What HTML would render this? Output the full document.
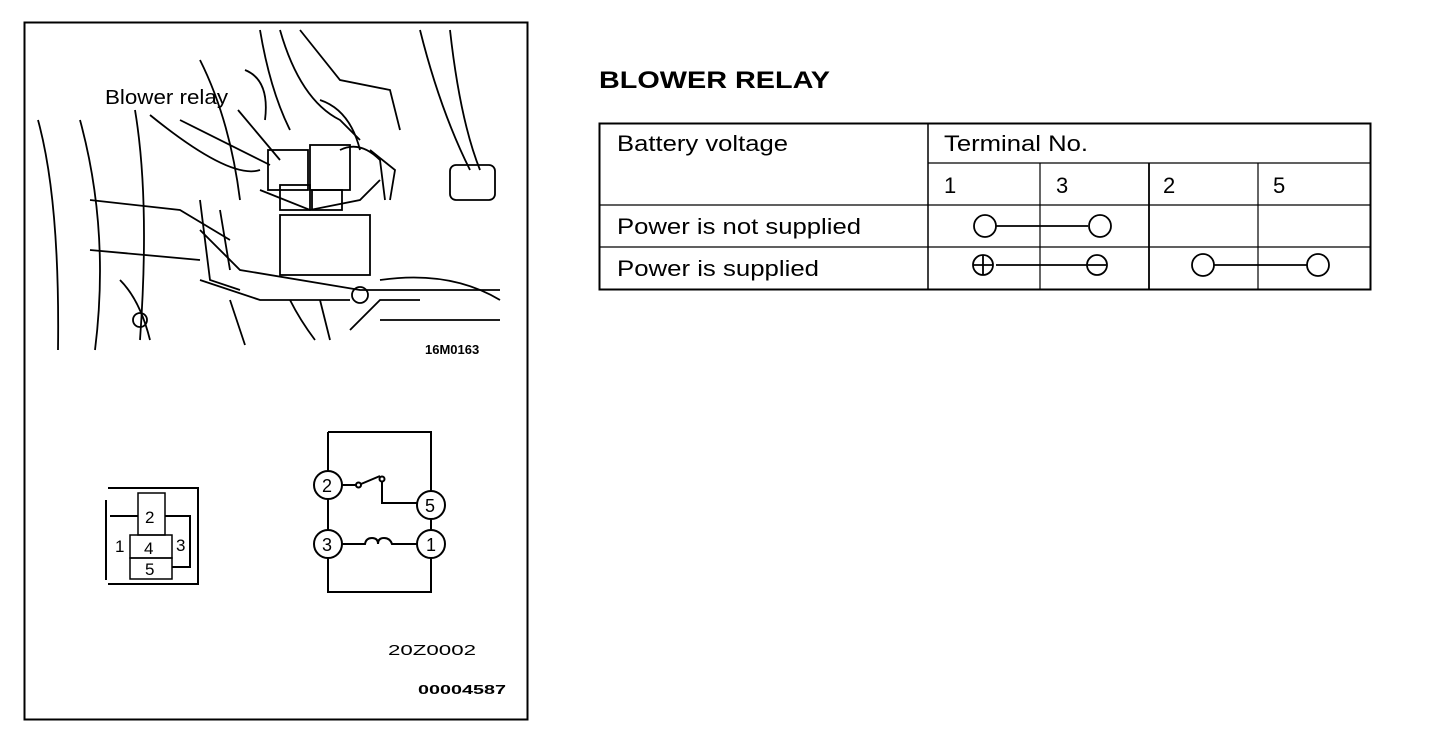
<!DOCTYPE html>
<html><head><meta charset="utf-8"><style>
body{margin:0;background:#fff;width:1456px;height:730px;overflow:hidden}
svg{display:block}
text{font-family:"Liberation Sans",sans-serif;fill:#000}
</style></head><body>
<svg width="1456" height="730" viewBox="0 0 1456 730" xmlns="http://www.w3.org/2000/svg">
<rect x="24.5" y="22.5" width="503" height="697" fill="none" stroke="#000" stroke-width="2"/>
<g fill="none" stroke="#000" stroke-width="1.8">
<path d="M38 120 Q60 200 58 350"/><path d="M80 120 Q110 230 95 350"/>
<path d="M135 110 Q150 200 140 340"/><path d="M150 115 Q230 180 260 170"/>
<path d="M200 60 Q230 120 240 200"/><path d="M260 30 Q270 90 290 130"/>
<path d="M280 30 Q300 100 340 120 L360 140"/><path d="M300 30 L340 80 L390 90 L400 130"/>
<path d="M420 30 Q440 110 470 170"/><path d="M450 30 Q460 120 480 170"/>
<rect x="450" y="165" width="45" height="35" rx="6"/>
<rect x="268" y="150" width="40" height="40"/><rect x="310" y="145" width="40" height="45"/>
<rect x="280" y="185" width="30" height="25"/><rect x="312" y="190" width="30" height="20"/>
<path d="M260 190 L310 210 L360 200 L380 180"/>
<rect x="280" y="215" width="90" height="60"/>
<path d="M200 230 L240 270 L360 290 L500 290"/><path d="M200 280 L260 300 L350 300"/>
<path d="M380 280 Q450 270 500 300"/><path d="M380 320 L500 320"/>
<path d="M90 200 L180 210 L230 240"/><path d="M90 250 L200 260"/>
<path d="M120 280 Q140 300 150 340"/><path d="M230 300 L245 345"/>
<path d="M290 300 Q300 320 315 340"/><path d="M320 300 L330 340"/>
<path d="M180 120 L270 165"/><path d="M238 110 L280 160"/>
<path d="M245 70 Q270 80 265 120"/><path d="M320 100 Q350 110 360 150"/>
<path d="M370 150 L395 170 L390 200"/>
<path d="M340 150 Q360 140 380 160 L385 200"/>
<path d="M200 200 L210 280 L240 290"/><path d="M220 210 L230 270"/>
<path d="M350 330 L380 300 L420 300"/>
<circle cx="360" cy="295" r="8"/><circle cx="140" cy="320" r="7"/>
</g>
<text x="105" y="104" font-size="20" textLength="123" lengthAdjust="spacingAndGlyphs">Blower relay</text>
<text x="425" y="354" font-size="13" font-weight="bold">16M0163</text>
<g fill="none" stroke="#000" stroke-width="2">
<path d="M108 488 L198 488 L198 584 L108 584"/>
<path d="M106 500 L106 580"/>
<path d="M110 516 L138 516"/>
<rect x="138" y="493" width="27" height="42" stroke-width="1.5"/>
<rect x="130" y="535" width="42" height="23" stroke-width="1.5"/>
<rect x="130" y="558" width="42" height="21" stroke-width="1.5"/>
<path d="M165 516 L190 516 L190 567 L172 567"/>
</g>
<text x="145" y="523" font-size="17">2</text>
<text x="115" y="552" font-size="17">1</text>
<text x="144" y="554" font-size="17">4</text>
<text x="176" y="551" font-size="17">3</text>
<text x="145" y="575" font-size="17">5</text>
<g fill="none" stroke="#000" stroke-width="2">
<path d="M328 432 L431 432 L431 492"/>
<path d="M328 432 L328 471"/>
<path d="M328 499 L328 530"/>
<path d="M328 558 L328 592 L431 592 L431 558"/>
<path d="M431 519 L431 530"/>
<path d="M342 485 L356 485"/><circle cx="358.5" cy="485" r="2.5"/>
<path d="M361 484 L380 476"/><circle cx="382" cy="479" r="2.5"/>
<path d="M382 482 L382 503 L417 503"/>
<path d="M342 544 L365 544 Q366 538 372 538 Q378 538 378 544 Q378 538 384 538 Q390 538 392 544 L417 544"/>
<circle cx="328" cy="485" r="14" fill="#fff"/>
<circle cx="431" cy="505" r="14" fill="#fff"/>
<circle cx="328" cy="544" r="14" fill="#fff"/>
<circle cx="431" cy="544" r="14" fill="#fff"/>
</g>
<text x="322" y="492" font-size="18">2</text>
<text x="425" y="512" font-size="18">5</text>
<text x="322" y="551" font-size="18">3</text>
<text x="426" y="551" font-size="18">1</text>
<text x="388" y="655" font-size="15" textLength="88" lengthAdjust="spacingAndGlyphs">20Z0002</text>
<text x="418" y="694" font-size="13" font-weight="bold" textLength="88" lengthAdjust="spacingAndGlyphs">00004587</text>
<text x="599" y="88" font-size="24" font-weight="bold" textLength="231" lengthAdjust="spacingAndGlyphs">BLOWER  RELAY</text>
<g stroke="#000" fill="none">
<rect x="599.5" y="123.5" width="771" height="166" stroke-width="2"/>
<path d="M928 123 V290" stroke-width="1.5"/>
<path d="M928 163 H1371" stroke-width="1.2"/>
<path d="M599 205 H1371 M599 247 H1371" stroke-width="1.2"/>
<path d="M1040 163 V290 M1258 163 V290" stroke-width="1.2"/>
<path d="M1149 163 V290" stroke-width="1.8"/>
</g>
<g font-size="22">
<text x="617" y="151" textLength="171" lengthAdjust="spacingAndGlyphs">Battery voltage</text>
<text x="944" y="151" textLength="144" lengthAdjust="spacingAndGlyphs">Terminal No.</text>
<text x="944" y="193">1</text><text x="1056" y="193">3</text>
<text x="1163" y="193">2</text><text x="1273" y="193">5</text>
<text x="617" y="234" textLength="244" lengthAdjust="spacingAndGlyphs">Power is not supplied</text>
<text x="617" y="276" textLength="202" lengthAdjust="spacingAndGlyphs">Power is supplied</text>
</g>
<g stroke="#000" fill="#fff" stroke-width="1.8">
<path d="M996 226 H1088 M996 265 H1088 M1214 265 H1308"/>
<circle cx="985" cy="226" r="11"/><circle cx="1100" cy="226" r="11"/>
<circle cx="983" cy="265" r="10"/><path d="M973 265 H993 M983 255 V275"/>
<circle cx="1097" cy="265" r="10"/><path d="M1088 265 H1106"/>
<circle cx="1203" cy="265" r="11"/><circle cx="1318" cy="265" r="11"/>
</g>
</svg>
</body></html>
